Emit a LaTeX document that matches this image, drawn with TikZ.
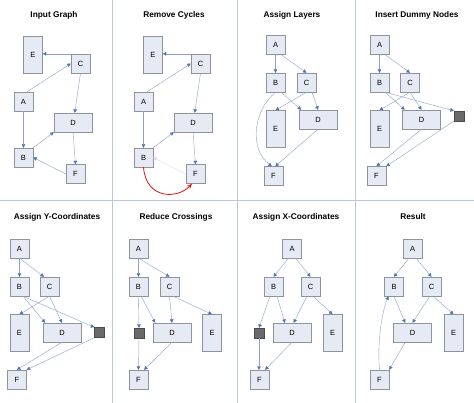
\documentclass[tikz,border=0pt]{standalone}
\usepackage{fontspec}
\setmainfont{Liberation Sans}
\usetikzlibrary{arrows.meta}
\definecolor{boxfill}{HTML}{E6EAF4}
\definecolor{boxline}{HTML}{8E939C}
\definecolor{edgeline}{HTML}{8FA0CC}
\definecolor{tipblue}{HTML}{4F72B5}
\definecolor{gridline}{HTML}{BCC8DA}
\definecolor{dummyfill}{HTML}{6A6A6A}
\definecolor{dummyline}{HTML}{4A4A4A}
\definecolor{fadeline}{HTML}{DADDE4}
\definecolor{cyclered}{HTML}{E01010}

\begin{document}
\begin{tikzpicture}[x=1pt, y=-1pt,
    box/.style={draw=boxline, fill=boxfill, minimum width=19pt, minimum height=19pt,
        inner sep=0pt, font=\fontsize{7.5}{8}\selectfont},
    tall/.style={minimum height=37pt},
    wide/.style={minimum width=38pt},
    dummy/.style={draw=dummyline, fill=dummyfill, minimum size=10pt, inner sep=0pt},
    edge/.style={edgeline, -{Triangle[length=3.5pt, width=3.5pt, color=tipblue]}},
    title/.style={font=\bfseries\fontsize{8.3}{10}\selectfont}]
    \fill [white] (0,0) rectangle (474,403);
    \useasboundingbox (0,0) rectangle (474,403);
    % panel borders
    \draw [gridline] (112,0) -- (112,403);
    \draw [gridline] (237,0) -- (237,403);
    \draw [gridline] (355,0) -- (355,403);
    \draw [gridline] (0,200) -- (474,200);

    % Input Graph
    \node (t1) at (54,15) [title] {Input Graph};
    \node (e1) at (33,54.5) [box, tall] {E};
    \node (c1) at (80.5,63.5) [box] {C};
    \node (a1) at (23.5,101.5) [box] {A};
    \node (d1) at (73,122.5) [box, wide] {D};
    \node (b1) at (23.5,157.5) [box] {B};
    \node (f1) at (75.5,174) [box] {F};
    \draw [edge] (c1.north west) -- (c1.north west -| e1.east);
    \draw [edge] (a1.70) -- (c1.west);
    \draw [edge] (c1.south) -- (d1.80);
    \draw [edge] (a1) -- (b1);
    \draw [edge] (b1.north east) -- (d1.south west);
    \draw [edge] (d1.south) -- (f1.north);
    \draw [edge] (f1.west) -- (b1.east);

    % Remove Cycles
    \node (t2) at (174,15) [title] {Remove Cycles};
    \node (e2) at (153,54.5) [box, tall] {E};
    \node (c2) at (200.5,63.5) [box] {C};
    \node (a2) at (143.5,101.5) [box] {A};
    \node (d2) at (193,122.5) [box, wide] {D};
    \node (b2) at (143.5,157.5) [box] {B};
    \node (f2) at (195.5,174) [box] {F};
    \draw [edge] (c2.north west) -- (c2.north west -| e2.east);
    \draw [edge] (a2.70) -- (c2.west);
    \draw [edge] (c2.south) -- (d2.80);
    \draw [edge] (a2) -- (b2);
    \draw [edge] (b2.north east) -- (d2.south west);
    \draw [edge] (d2.south) -- (f2.north);
    \draw [fadeline, -{Triangle[length=3.5pt, width=3.5pt, color=fadeline]}] (f2.west) -- (b2.east);
    \draw [cyclered, thick, -{Stealth[length=5pt, width=4pt]}] (b2.south)
        .. controls (146,200) and (178,199) .. (f2.250);

    % Assign Layers
    \node (t3) at (292,15) [title] {Assign Layers};
    \node (a3) at (275.5,45) [box] {A};
    \node (b3) at (275.5,82.5) [box] {B};
    \node (c3) at (306.5,82.5) [box] {C};
    \node (e3) at (275.5,129) [box, tall] {E};
    \node (d3) at (318,119.5) [box, wide] {D};
    \node (f3) at (273.5,176) [box] {F};
    \draw [edge] (a3) -- (b3);
    \draw [edge] (a3.-60) -- (c3.north);
    \draw [edge] (b3.-60) -- (d3.150);
    \draw [edge] (c3.south) -- (e3.north);
    \draw [edge] (c3.-60) -- (d3.north);
    \draw [edge] (b3.south) .. controls (252,112) and (250,150) .. (f3.100);
    \draw [edge] (d3.south) -- (f3.80);

    % Insert Dummy Nodes
    \node (t4) at (417,15) [title] {Insert Dummy Nodes};
    \node (a4) at (379.5,45) [box] {A};
    \node (b4) at (379.5,82.5) [box] {B};
    \node (c4) at (410,82.5) [box] {C};
    \node (e4) at (379.5,129) [box, tall] {E};
    \node (d4) at (421.5,119.5) [box, wide] {D};
    \node (dm4) at (459,116) [dummy] {};
    \node (f4) at (376.5,176) [box] {F};
    \draw [edge] (a4) -- (b4);
    \draw [edge] (a4.-60) -- (c4.north);
    \draw [edge] (b4.-60) -- (d4.150);
    \draw [edge] (c4.south) -- (e4.north);
    \draw [edge] (c4.south) -- (d4.north);
    \draw [edge] (b4.-60) -- (dm4.north west);
    \draw [edge] (dm4.south west) -- (f4.north east);
    \draw [edge] (d4.south) -- (f4.north);

    % Assign Y-Coordinates
    \node (t5) at (57,217) [title] {Assign Y-Coordinates};
    \node (a5) at (19.5,248.5) [box] {A};
    \node (b5) at (19.5,286.5) [box] {B};
    \node (c5) at (49.5,286.5) [box] {C};
    \node (e5) at (19.5,333) [box, tall] {E};
    \node (d5) at (62,332.5) [box, wide] {D};
    \node (dm5) at (99.5,332.5) [dummy] {};
    \node (f5) at (17,379.5) [box] {F};
    \draw [edge] (a5) -- (b5);
    \draw [edge] (a5.south) -- (c5.120);
    \draw [edge] (b5.-70) -- (d5.150);
    \draw [edge] (b5.-70) -- (dm5.north west);
    \draw [edge] (c5.south) -- (e5.north);
    \draw [edge] (c5.south) -- (d5.north);
    \draw [edge] (d5.south) -- (f5.north);
    \draw [edge] (dm5.south west) -- (f5.north east);

    % Reduce Crossings
    \node (t6) at (176,217) [title] {Reduce Crossings};
    \node (a6) at (138.5,248.5) [box] {A};
    \node (b6) at (138.5,286.5) [box] {B};
    \node (c6) at (169.5,286.5) [box] {C};
    \node (dm6) at (139,333) [dummy] {};
    \node (d6) at (172,332.5) [box, wide] {D};
    \node (e6) at (212,333) [box, tall] {E};
    \node (f6) at (138.5,379.5) [box] {F};
    \draw [edge] (a6) -- (b6);
    \draw [edge] (a6.south) -- (c6.north);
    \draw [edge] (b6.south) -- (dm6.north);
    \draw [edge] (b6.-75) -- (d6.150);
    \draw [edge] (c6.south) -- (d6.north);
    \draw [edge] (c6.-70) -- (e6.north);
    \draw [edge] (dm6.south) -- (f6.north);
    \draw [edge] (d6.south) -- (f6.60);

    % Assign X-Coordinates
    \node (t7) at (296,217) [title] {Assign X-Coordinates};
    \node (a7) at (292,248.5) [box] {A};
    \node (b7) at (273.5,286.5) [box] {B};
    \node (c7) at (310.5,286.5) [box] {C};
    \node (dm7) at (259,333) [dummy] {};
    \node (d7) at (292,332.5) [box, wide] {D};
    \node (e7) at (332.5,333) [box, tall] {E};
    \node (f7) at (259.5,379.5) [box] {F};
    \draw [edge] (a7.-110) -- (b7.north);
    \draw [edge] (a7.-70) -- (c7.north);
    \draw [edge] (b7.-110) -- (dm7.north);
    \draw [edge] (b7.-70) -- (d7.126);
    \draw [edge] (c7.-110) -- (d7.80);
    \draw [edge] (c7.-75) -- (e7.north);
    \draw [edge] (dm7.south) -- (dm7.south |- f7.north);
    \draw [edge] (d7.south) -- (f7.60);

    % Result
    \node (t8) at (413,217) [title] {Result};
    \node (a8) at (412.5,248.5) [box] {A};
    \node (b8) at (394,286.5) [box] {B};
    \node (c8) at (431.5,286.5) [box] {C};
    \node (d8) at (412.5,332.5) [box, wide] {D};
    \node (e8) at (453.5,333) [box, tall] {E};
    \node (f8) at (379.5,379.5) [box] {F};
    \draw [edge] (a8.-110) -- (b8.north);
    \draw [edge] (a8.-70) -- (c8.north);
    \draw [edge] (b8.south) -- (d8.127);
    \draw [edge] (c8.-100) -- (d8.north);
    \draw [edge] (c8.-80) -- (e8.north);
    \draw [edge] (d8.-127) -- (f8.north east);
    \draw [edge] (f8.north) .. controls (377,342) and (382,312) .. (b8.-120);
\end{tikzpicture}
\end{document}
